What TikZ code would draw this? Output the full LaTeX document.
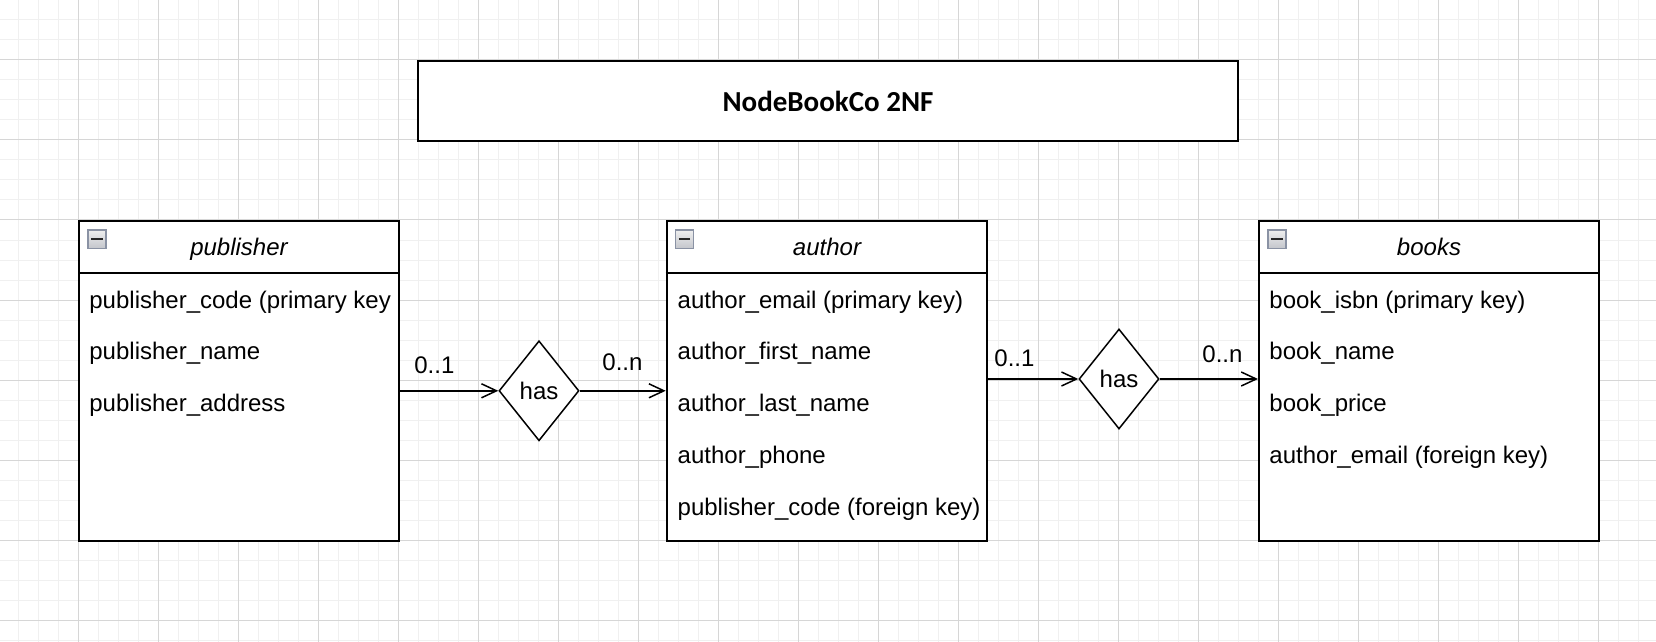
\documentclass[tikz,border=0pt]{standalone}
\usepackage{fontspec}
\setmainfont{Liberation Sans}
\newfontfamily\titlefont{Carlito}
\usetikzlibrary{shapes.geometric,arrows.meta}
\definecolor{gridminor}{HTML}{F0F0F0}
\definecolor{gridmajor}{HTML}{D6D6D6}
\definecolor{iconborder}{HTML}{8A92A4}
\definecolor{icontop}{HTML}{EEEEEE}
\definecolor{iconbot}{HTML}{C4C6CC}
\tikzset{
  minorline/.style={draw=gridminor,line width=0.5pt},
  majorline/.style={draw=gridmajor,line width=0.5pt},
  entity/.style={draw,fill=white,line width=1pt,rectangle,inner sep=0pt,minimum height=160pt},
  titlebox/.style={draw,fill=white,line width=1pt,rectangle,inner sep=0pt,minimum width=410pt,minimum height=40pt,font=\titlefont\bfseries\fontsize{14.5}{17}\selectfont},
  header/.style={font=\itshape\fontsize{12}{14}\selectfont,inner sep=0pt,anchor=base},
  field/.style={font=\fontsize{12}{14}\selectfont,inner sep=0pt,anchor=base west},
  card/.style={font=\fontsize{12}{14}\selectfont,inner sep=0pt,anchor=base west},
  rel/.style={draw,fill=white,diamond,line width=0.75pt,inner sep=0pt,minimum width=40pt,minimum height=50pt,font=\fontsize{12}{14}\selectfont},
  conn/.style={line width=0.75pt,-{Straight Barb[length=7.5pt,width=7pt]}},
  sep/.style={line width=1pt},
  icon/.style={draw=iconborder,line width=0.7pt,top color=icontop,bottom color=iconbot,rectangle,inner sep=0pt,minimum size=9pt,anchor=north west}
}
\begin{document}
\begin{tikzpicture}[x=0.5pt,y=-0.5pt]
\useasboundingbox (0,0) rectangle (1656,642);
\fill[white] (0,0) rectangle (1656,642);
% grid
\foreach \k in {0,...,83} {\draw[minorline] ({-1.7+20*\k},0) -- ({-1.7+20*\k},642);}
\foreach \k in {0,...,32} {\draw[minorline] (0,{20*\k}) -- (1656,{20*\k});}
\foreach \k in {0,...,21} {\draw[majorline] ({-1.7+80*\k},0) -- ({-1.7+80*\k},642);}
\foreach \k in {0,...,7} {\draw[majorline] (0,{60+80*\k}) -- (1656,{60+80*\k});}

% title
\node[titlebox] (title) at (828,101) {NodeBookCo 2NF};

% entities
\node[entity,minimum width=160pt] (pub) at (239,380.7) {};
\node[entity,minimum width=160.3pt] (aut) at (827,380.7) {};
\node[entity,minimum width=170pt] (boo) at (1429,380.7) {};

\coordinate (hy) at (0,272.7);
\draw[sep] (pub.west |- hy) -- (pub.east |- hy);
\draw[sep] (aut.west |- hy) -- (aut.east |- hy);
\draw[sep] (boo.west |- hy) -- (boo.east |- hy);

% icons
\foreach \n in {pub,aut,boo} {
  \node[icon] (\n icon) at ([xshift=4.6pt]\n.west |- 0,229.5) {};
  \draw[line width=1.1pt,black!85] ([xshift=2pt]\n icon.west) -- ([xshift=-2pt]\n icon.east);
}

% headers
\node[header] (pubh) at (pub.center |- 0,256) {publisher};
\node[header] (auth) at (aut.center |- 0,256) {author};
\node[header] (booh) at (boo.center |- 0,256) {books};

% fields
\node[field] (p1) at ([xshift=5.5pt]pub.west |- 0,308) {publisher\_code (primary key};
\node[field] (p2) at ([xshift=5.5pt]pub.west |- 0,359.7) {publisher\_name};
\node[field] (p3) at ([xshift=5.5pt]pub.west |- 0,411.5) {publisher\_address};

\node[field] (a1) at ([xshift=5.8pt]aut.west |- 0,308) {author\_email (primary key)};
\node[field] (a2) at ([xshift=5.8pt]aut.west |- 0,359.7) {author\_first\_name};
\node[field] (a3) at ([xshift=5.8pt]aut.west |- 0,411.5) {author\_last\_name};
\node[field] (a4) at ([xshift=5.8pt]aut.west |- 0,463.2) {author\_phone};
\node[field] (a5) at ([xshift=5.8pt]aut.west |- 0,515) {publisher\_code (foreign key)};

\node[field] (b1) at ([xshift=5.5pt]boo.west |- 0,308) {book\_isbn (primary key)};
\node[field] (b2) at ([xshift=5.5pt]boo.west |- 0,359.7) {book\_name};
\node[field] (b3) at ([xshift=5.5pt]boo.west |- 0,411.5) {book\_price};
\node[field] (b4) at ([xshift=5.5pt]boo.west |- 0,463.2) {author\_email (foreign key)};

% relationships
\node[rel] (r1) at (539,390.8) {has};
\node[rel] (r2) at (1119,379) {has};

\draw[conn] (r1.west -| pub.east) -- (r1.west);
\draw[conn] (r1.east) -- (r1.east -| aut.west);
\draw[conn] (r2.west -| aut.east) -- (r2.west);
\draw[conn] (r2.east) -- (r2.east -| boo.west);

% cardinalities
\node[card] (c1) at (414,373) {0..1};
\node[card] (c2) at (602,370) {0..n};
\node[card] (c3) at (994,366) {0..1};
\node[card] (c4) at (1202,362) {0..n};
\end{tikzpicture}
\end{document}
